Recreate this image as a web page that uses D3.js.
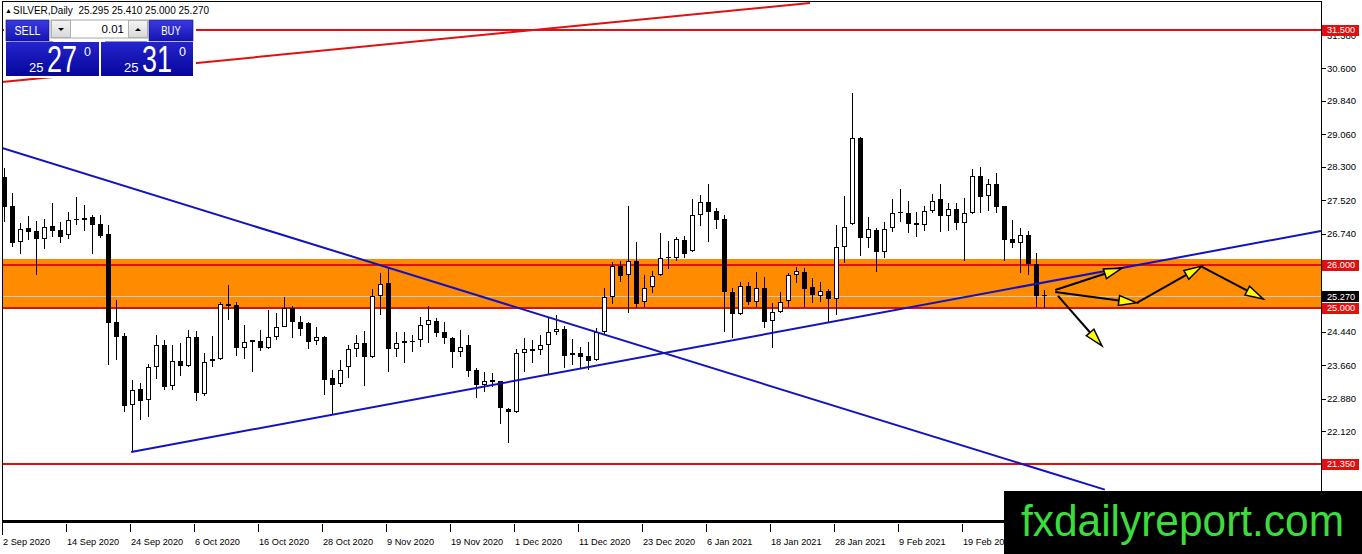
<!DOCTYPE html>
<html>
<head>
<meta charset="utf-8">
<script src="https://cdn.jsdelivr.net/npm/d3@7"></script>
<style>
  html, body { margin: 0; padding: 0; background: #fff; overflow: hidden; }
  svg { display: block; font-family: "Liberation Sans", Arial, sans-serif; }
</style>
</head>
<body>
<div id="chart"></div>
<script>
    // ---- data (daily silver bars, 2 Sep 2020 .. 5 Mar 2021)
    const openP = [28.06,27.38,26.54,26.86,26.80,26.61,26.92,26.82,26.70,27.06,27.10,27.12,26.96,26.73,24.66,24.34,22.73,23.10,22.85,23.61,
      24.13,23.17,23.77,23.65,24.31,22.98,23.75,23.80,25.09,25.07,24.07,24.24,24.23,24.07,24.33,24.56,24.99,24.67,24.65,24.23,
      24.31,23.35,23.22,23.61,24.03,24.17,23.85,25.29,25.58,24.04,24.17,24.22,24.24,24.59,24.69,24.44,24.29,23.98,24.13,23.55,
      23.20,23.31,23.28,22.63,22.57,23.95,24.03,24.02,24.13,24.43,24.51,23.89,23.95,23.88,23.78,24.44,25.26,25.98,25.76,26.10,
      25.13,25.48,25.77,26.16,26.16,26.58,26.32,27.17,27.47,27.27,27.07,25.38,24.85,25.51,25.15,25.46,24.70,24.90,25.16,25.76,
      25.83,25.48,25.28,25.40,25.20,26.43,26.96,28.97,26.63,26.82,26.30,26.86,27.25,27.21,26.98,26.94,27.27,27.54,27.16,27.31,
      26.98,27.21,28.09,27.62,27.90,27.38,26.61,26.51,26.71,26.03,25.295];
    const highP = [28.27,27.68,26.98,27.15,27.04,27.07,27.45,27.01,27.25,27.59,27.41,27.17,27.17,26.93,25.19,24.42,23.31,23.25,23.69,24.37,
      24.25,24.13,24.17,24.48,24.46,23.94,24.34,25.15,25.54,25.15,24.60,24.25,24.48,24.94,24.87,25.26,25.05,24.81,24.66,24.56,
      24.35,23.55,23.78,24.13,24.37,24.46,25.44,25.81,25.93,24.44,24.44,24.37,24.78,25.05,24.76,24.68,24.31,24.48,24.37,23.60,
      23.51,23.47,23.30,22.65,24.03,24.29,24.25,24.37,24.76,24.83,24.58,24.27,24.09,24.21,24.52,25.46,26.08,26.10,27.38,26.55,
      25.77,25.87,26.75,26.57,26.65,26.68,27.54,27.64,27.89,27.33,27.17,25.46,25.60,25.61,25.85,25.73,25.11,25.38,25.81,25.96,
      25.94,25.71,25.61,25.44,26.94,27.62,30.02,28.99,27.13,26.86,27.00,27.54,27.77,27.50,27.25,27.38,27.66,27.91,27.46,27.46,
      27.56,28.24,28.30,28.01,28.16,27.38,27.06,26.86,26.81,26.28,25.41];
    const lowP = [27.01,26.43,26.26,26.59,25.77,26.37,26.65,26.51,26.62,26.94,26.81,26.26,26.63,23.67,23.78,22.56,21.64,22.38,22.46,23.33,
      23.08,23.08,23.41,23.63,22.83,22.95,23.61,23.78,24.72,23.88,23.81,23.51,24.00,24.03,24.25,24.55,24.30,24.34,24.04,24.13,
      22.96,22.50,23.14,23.35,23.86,23.17,23.83,24.83,23.51,23.86,23.72,23.98,24.09,24.17,24.31,24.15,23.59,23.86,23.38,22.89,
      23.04,23.14,22.29,21.85,22.54,23.49,23.71,23.90,23.43,24.37,23.59,23.66,23.59,23.55,23.75,24.37,25.09,25.61,24.89,25.01,
      25.03,25.36,25.75,25.90,26.10,26.16,26.30,26.92,26.55,26.85,24.43,24.29,24.83,25.07,25.03,24.54,24.06,24.88,25.03,25.58,
      25.03,25.11,25.15,24.66,24.83,26.04,26.95,26.22,26.39,25.85,26.16,26.78,27.02,26.76,26.65,26.81,27.21,26.78,26.81,26.82,
      26.10,27.20,27.21,27.27,27.23,26.10,26.39,25.82,25.77,25.03,25.00];
    const closeP = [27.36,26.53,26.84,26.78,26.61,26.89,26.81,26.65,27.05,27.08,27.06,26.95,26.68,24.64,24.31,22.71,23.08,22.82,23.61,24.13,
      23.16,23.76,23.65,24.31,23.00,23.73,23.80,25.09,25.05,24.07,24.20,24.20,24.06,24.33,24.56,24.99,24.66,24.51,24.21,24.31,
      23.31,23.20,23.56,24.03,24.17,23.85,25.29,25.56,24.03,24.17,24.22,24.23,24.59,24.71,24.41,24.29,23.98,24.08,23.53,23.20,
      23.28,23.26,22.65,22.57,23.94,24.03,24.00,24.13,24.43,24.50,23.88,23.95,23.86,23.77,24.43,25.26,25.98,25.74,26.10,25.09,
      25.46,25.75,26.16,26.18,26.61,26.27,27.17,27.47,27.24,27.06,25.37,24.85,25.51,25.15,25.46,24.68,24.90,25.15,25.77,25.86,
      25.44,25.30,25.40,25.20,26.43,26.90,28.97,26.63,26.84,26.30,26.85,27.21,27.21,26.96,26.95,27.27,27.51,27.16,27.31,26.98,
      27.23,28.09,27.59,27.89,27.35,26.59,26.51,26.71,26.02,25.28,25.27];

    // time scale labels, one every 8 bars from the first bar
    const dateLabels = ["2 Sep 2020", "14 Sep 2020", "24 Sep 2020", "6 Oct 2020", "16 Oct 2020", "28 Oct 2020",
      "9 Nov 2020", "19 Nov 2020", "1 Dec 2020", "11 Dec 2020", "23 Dec 2020", "6 Jan 2021", "18 Jan 2021",
      "28 Jan 2021", "9 Feb 2021", "19 Feb 2021"];
    const barsPerLabel = 8;

    // price scale
    const priceTicks = [31.38, 30.60, 29.84, 29.06, 28.30, 27.52, 26.74, 25.96, 25.20, 24.44, 23.66, 22.88, 22.12, 21.34];
    const levelPrices = [31.5, 26.0, 25.0, 21.35];
    const bidPrice = 25.27;
    const zonePrices = [26.14, 25.0];

    // drawn objects: [bar index, price] pairs
    const redTrend = [[-0.5, 30.28], [100.75, 32.13]];
    const downTrend = [[-0.25, 28.74], [137.6, 20.75]];
    const upTrend = [[15.9, 21.63], [164.625, 26.80]];
    const arrowPaths = [
      [[131.4, 25.42], [139.75, 25.93]],
      [[131.4, 25.37], [141.6, 25.12]],
      [[141.6, 25.12], [149.75, 25.98]],
      [[149.75, 25.96], [157.4, 25.21]],
      [[131.75, 25.28], [137.25, 24.11]]
    ];

    // header + trade panel text
    const symbolName = "SILVER,Daily";
    const lastOHLC = ["25.295", "25.410", "25.000", "25.270"];
    const lotSize = "0.01";
    const sellQuote = ["25", "27", "0"];
    const buyQuote = ["25", "31", "0"];
    const watermark = "fxdailyreport.com";

    //Color Palette
    var candleColor = "#000000";
    var levelRed = "#e01010";
    var trendBlue = "#1212c4";
    var zoneOrange = "#ff8c00";
    var bidGrey = "#c8c8c8";
    var arrowYellow = "#ffff00";
    var markGreen = "#3ddc3d";

    const W = 1362, H = 554;
    const plotLeft = 2, plotRight = 1321, plotTop = 2, plotBottom = 520;

    const svg = d3.select("#chart")
      .append("svg")
      .attr("width", W)
      .attr("height", H);

    const defs = svg.append("defs");
    defs.append("clipPath").attr("id", "plotClip")
      .append("rect")
      .attr("x", plotLeft).attr("y", plotTop)
      .attr("width", plotRight - plotLeft).attr("height", plotBottom - plotTop);

    function gradient(id, top, bottom) {
      const g = defs.append("linearGradient").attr("id", id)
        .attr("x1", 0).attr("y1", 0).attr("x2", 0).attr("y2", 1);
      g.append("stop").attr("offset", "0%").attr("stop-color", top);
      g.append("stop").attr("offset", "100%").attr("stop-color", bottom);
    }
    gradient("btnBlue", "#3a3ae0", "#1414b4");
    gradient("quoteBlue", "#2424cc", "#06069c");
    gradient("spinGrey", "#f4f4f4", "#d8d8d8");

    // scales: one bar every 8 px, price to pixel
    const x = d3.scaleLinear()
      .domain([0, 164.625])
      .range([4, plotRight]);
    const y = d3.scaleLinear()
      .domain([21.35, 31.5])
      .range([464, 30]);

    const plot = svg.append("g").attr("clip-path", "url(#plotClip)");

    // orange zone (background object)
    plot.append("rect")
      .attr("x", plotLeft)
      .attr("width", plotRight - plotLeft)
      .attr("y", Math.round(y(zonePrices[0])))
      .attr("height", Math.round(y(zonePrices[1])) - Math.round(y(zonePrices[0])))
      .attr("fill", zoneOrange);

    // bid line
    plot.append("rect")
      .attr("x", plotLeft).attr("width", plotRight - plotLeft)
      .attr("y", Math.round(y(bidPrice))).attr("height", 1)
      .attr("fill", bidGrey);

    // horizontal levels
    plot.selectAll(".level")
      .data(levelPrices)
      .enter()
      .append("rect")
      .attr("class", "level")
      .attr("x", plotLeft).attr("width", plotRight - plotLeft)
      .attr("y", d => Math.round(y(d)) - 1).attr("height", 2)
      .attr("fill", levelRed);

    // candles
    const bars = plot.selectAll(".bar")
      .data(d3.range(openP.length))
      .enter()
      .append("g")
      .attr("class", "bar")
      .attr("shape-rendering", "crispEdges");

    bars.append("rect") // wick
      .attr("x", i => Math.round(x(i)))
      .attr("width", 1)
      .attr("y", i => Math.round(y(highP[i])))
      .attr("height", i => Math.max(1, Math.round(y(lowP[i])) - Math.round(y(highP[i]))))
      .attr("fill", candleColor);

    bars.append("rect") // body outline / black body
      .attr("x", i => Math.round(x(i)) - 2)
      .attr("width", 5)
      .attr("y", i => Math.round(y(Math.max(openP[i], closeP[i]))))
      .attr("height", i => Math.max(1, Math.round(y(Math.min(openP[i], closeP[i]))) - Math.round(y(Math.max(openP[i], closeP[i])))))
      .attr("fill", candleColor);

    bars.filter(i => closeP[i] > openP[i] && (Math.round(y(openP[i])) - Math.round(y(closeP[i]))) > 2)
      .append("rect") // hollow inside of up bars
      .attr("x", i => Math.round(x(i)) - 1)
      .attr("width", 3)
      .attr("y", i => Math.round(y(closeP[i])) + 1)
      .attr("height", i => Math.round(y(openP[i])) - Math.round(y(closeP[i])) - 2)
      .attr("fill", "#fff");

    // trend lines
    const trendLine = d3.line().x(d => x(d[0])).y(d => y(d[1]));
    plot.append("path").attr("d", trendLine(redTrend))
      .attr("stroke", levelRed).attr("stroke-width", 2).attr("fill", "none");
    plot.append("path").attr("d", trendLine(downTrend))
      .attr("stroke", trendBlue).attr("stroke-width", 2).attr("fill", "none");
    plot.append("path").attr("d", trendLine(upTrend))
      .attr("stroke", trendBlue).attr("stroke-width", 2).attr("fill", "none");

    // arrows: black shaft, yellow head with black edge
    arrowPaths.forEach(function (a) {
      const x1 = x(a[0][0]), y1 = y(a[0][1]), x2 = x(a[1][0]), y2 = y(a[1][1]);
      const ang = Math.atan2(y2 - y1, x2 - x1);
      const len = 18, half = 5;
      const bx = x2 - len * Math.cos(ang), by = y2 - len * Math.sin(ang);
      const px = -Math.sin(ang) * half, py = Math.cos(ang) * half;
      svg.append("line")
        .attr("x1", x1).attr("y1", y1).attr("x2", bx).attr("y2", by)
        .attr("stroke", "#000").attr("stroke-width", 2);
      svg.append("path")
        .attr("d", `M${x2},${y2}L${bx + px},${by + py}L${bx - px},${by - py}Z`)
        .attr("fill", arrowYellow).attr("stroke", "#000").attr("stroke-width", 1.5)
        .attr("stroke-linejoin", "miter");
    });

    // frame
    const frame = svg.append("g").attr("shape-rendering", "crispEdges");
    frame.append("rect").attr("x", plotLeft).attr("y", 1).attr("width", plotRight - plotLeft).attr("height", 1).attr("fill", "#000");
    frame.append("rect").attr("x", plotLeft).attr("y", 1).attr("width", 1).attr("height", 534).attr("fill", "#000");
    frame.append("rect").attr("x", plotRight).attr("y", 1).attr("width", 1).attr("height", 534).attr("fill", "#000");
    frame.append("rect").attr("x", plotLeft).attr("y", plotBottom).attr("width", plotRight - plotLeft).attr("height", 3).attr("fill", "#000");

    // price axis
    const tags = levelPrices.map(p => ({ p: p, bg: levelRed })).concat([{ p: bidPrice, bg: "#000" }]);
    // tick labels sitting right under a price tag are hidden by it, as in the terminal
    const shownTicks = priceTicks.filter(t => !tags.some(g => Math.abs(y(g.p) - y(t)) < 4.5));

    const yAxis = svg.append("g");
    yAxis.selectAll(".ytick")
      .data(priceTicks)
      .enter()
      .append("rect")
      .attr("x", plotRight + 1).attr("width", 4)
      .attr("y", d => Math.round(y(d))).attr("height", 1)
      .attr("fill", "#000");
    yAxis.selectAll(".ylab")
      .data(shownTicks)
      .enter()
      .append("text")
      .attr("x", 1327)
      .attr("y", d => y(d) + 3.5)
      .style("font-size", "9.5px")
      .attr("fill", "#000")
      .text(d => d.toFixed(3));

    // price tags on the axis
    const tag = svg.selectAll(".tag").data(tags).enter().append("g");
    tag.append("rect")
      .attr("x", plotRight + 1).attr("width", 37)
      .attr("y", d => Math.round(y(d.p)) - 5).attr("height", 11)
      .attr("fill", d => d.bg);
    tag.append("text")
      .attr("x", 1327)
      .attr("y", d => y(d.p) + 3.3)
      .style("font-size", "9.2px")
      .attr("fill", "#fff")
      .text(d => d.p.toFixed(3));

    // time axis
    const xAxis = svg.append("g");
    const labelBars = dateLabels.map((d, k) => k * barsPerLabel);
    xAxis.selectAll(".xtick")
      .data(labelBars)
      .enter()
      .append("rect")
      .attr("x", i => Math.round(x(i)) - 2).attr("width", 1)
      .attr("y", 524).attr("height", 8)
      .attr("fill", "#000");
    xAxis.selectAll(".xlab")
      .data(labelBars)
      .enter()
      .append("text")
      .attr("x", i => x(i) - 1)
      .attr("y", 545)
      .style("font-size", "9.2px")
      .attr("fill", "#000")
      .text((i, k) => dateLabels[k]);

    // header line
    svg.append("text").attr("x", 5).attr("y", 13).style("font-size", "7px").text("\u25B2");
    svg.append("text").attr("x", 13).attr("y", 14)
      .style("font-size", "10px")
      .attr("fill", "#000")
      .attr("xml:space", "preserve")
      .text(symbolName + "  " + lastOHLC.join(" "));

    // one click trading panel
    const panel = svg.append("g");
    panel.append("rect").attr("x", 4).attr("y", 18).attr("width", 192).attr("height", 60).attr("fill", "#fff");
    function button(x0, w, label) {
      panel.append("rect").attr("x", x0).attr("y", 20).attr("width", w).attr("height", 21)
        .attr("fill", "url(#btnBlue)").attr("stroke", "#101080").attr("stroke-width", 0.6);
      panel.append("text").attr("x", x0 + w / 2).attr("y", 35)
        .attr("text-anchor", "middle").style("font-size", "12.5px").attr("fill", "#fff")
        .attr("textLength", label.length * 6.5).attr("lengthAdjust", "spacingAndGlyphs")
        .text(label);
    }
    button(6, 43, "SELL");
    button(149, 44, "BUY");
    // lot spinner
    panel.append("rect").attr("x", 51).attr("y", 20).attr("width", 97).attr("height", 18)
      .attr("fill", "#fff").attr("stroke", "#a8a8a8").attr("stroke-width", 1);
    panel.append("rect").attr("x", 51.5).attr("y", 20.5).attr("width", 19).attr("height", 17)
      .attr("fill", "url(#spinGrey)").attr("stroke", "#b0b0b0");
    panel.append("rect").attr("x", 128.5).attr("y", 20.5).attr("width", 19).attr("height", 17)
      .attr("fill", "url(#spinGrey)").attr("stroke", "#b0b0b0");
    panel.append("path").attr("d", "M58,28L64,28L61,31Z").attr("fill", "#000");
    panel.append("path").attr("d", "M135,31L141,31L138,28Z").attr("fill", "#000");
    panel.append("text").attr("x", 124).attr("y", 33).attr("text-anchor", "end")
      .style("font-size", "11.5px").attr("fill", "#000").text(lotSize);

    // quote boxes
    function quote(x0, w, q) {
      panel.append("rect").attr("x", x0).attr("y", 42).attr("width", w).attr("height", 34)
        .attr("fill", "url(#quoteBlue)");
      panel.append("rect").attr("x", x0 + 4).attr("y", 41).attr("width", w - 50).attr("height", 1)
        .attr("fill", "#8c8cf0");
      panel.append("text").attr("x", x0 + 23).attr("y", 72).style("font-size", "13px").attr("fill", "#fff")
        .text(q[0]);
      panel.append("text").attr("x", x0 + 41).attr("y", 72).style("font-size", "36px").attr("fill", "#fff")
        .attr("textLength", 30).attr("lengthAdjust", "spacingAndGlyphs")
        .text(q[1]);
      panel.append("text").attr("x", x0 + 78).attr("y", 56).style("font-size", "12.5px").attr("fill", "#fff")
        .text(q[2]);
    }
    quote(6, 93, sellQuote);
    quote(101, 92, buyQuote);

    // watermark box
    svg.append("rect").attr("x", 1004).attr("y", 491).attr("width", W - 1004).attr("height", H - 491).attr("fill", "#000");
    svg.append("text").attr("x", 1021).attr("y", 536)
      .style("font-size", "44px")
      .attr("fill", markGreen)
      .attr("textLength", 323).attr("lengthAdjust", "spacingAndGlyphs")
      .text(watermark);
</script>
</body>
</html>
